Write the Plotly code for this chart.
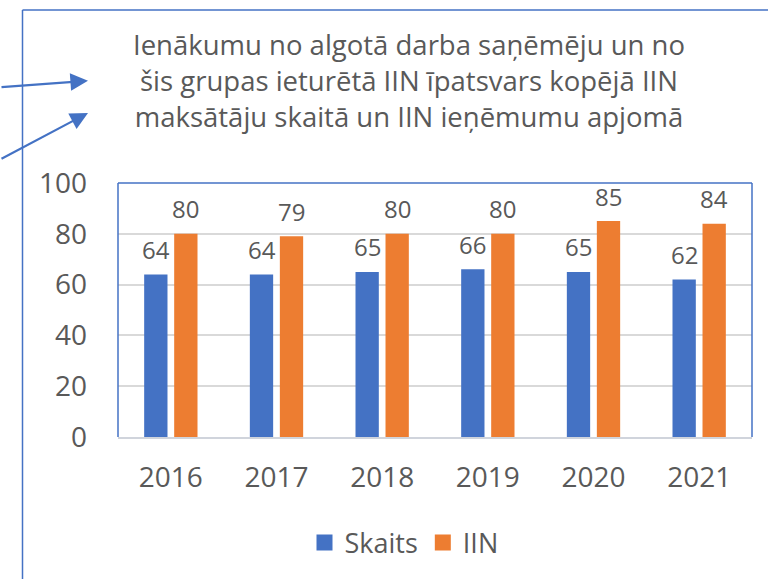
import plotly.graph_objects as go

years = ["2016", "2017", "2018", "2019", "2020", "2021"]
skaits = [64, 64, 65, 66, 65, 62]
iin = [80, 79, 80, 80, 85, 84]
title_lines = ["Ienākumu no algotā darba saņēmēju un no",
               "šis grupas ieturētā IIN īpatsvars kopējā IIN",
               "maksātāju skaitā un IIN ieņēmumu apjomā"]

BLUE = "#4472C4"
ORANGE = "#ED7D31"
GREY = "#595959"
FONT = "Open Sans"

W, H = 768, 579
L, R, T, B = 118, 16, 183, 142
PW = W - L - R
PH = H - T - B

def px(x):
    return (x - L) / PW

def py(y):
    return (H - B - y) / PH

fig = go.Figure()
fig.add_trace(go.Bar(x=years, y=skaits, name="Skaits", showlegend=False,
                     marker=dict(color=BLUE, line=dict(width=0))))
fig.add_trace(go.Bar(x=years, y=iin, name="IIN", showlegend=False,
                     marker=dict(color=ORANGE, line=dict(width=0))))
# legend entries with larger square swatches
for name, col in (("Skaits", BLUE), ("IIN", ORANGE)):
    fig.add_trace(go.Scatter(x=[None], y=[None], mode="markers", name=name,
                             marker=dict(symbol="square", size=17, color=col)))

annotations = []
for i, v in enumerate(skaits):
    annotations.append(dict(x=i, y=v, xref="x", yref="y", text=str(v), showarrow=False,
                            xshift=-15, yshift=25, yanchor="middle",
                            font=dict(family=FONT, size=24, color=GREY)))
for i, v in enumerate(iin):
    annotations.append(dict(x=i, y=v, xref="x", yref="y", text=str(v), showarrow=False,
                            xshift=15, yshift=25, yanchor="middle",
                            font=dict(family=FONT, size=24, color=GREY)))

annotations.append(dict(x=px(409), y=py(80), xref="paper", yref="paper",
                        text="<br>".join(title_lines), showarrow=False,
                        xanchor="center", yanchor="middle", align="center",
                        font=dict(family=FONT, size=27.5, color=GREY)))

# arrows
annotations.append(dict(x=px(88), y=py(80.7), xref="paper", yref="paper", text="",
                        showarrow=True, ax=-108, ay=6.5, axref="pixel", ayref="pixel",
                        arrowhead=2, arrowsize=1.6, arrowwidth=2.2, arrowcolor=BLUE))
annotations.append(dict(x=px(88), y=py(113), xref="paper", yref="paper", text="",
                        showarrow=True, ax=-108, ay=46.6, axref="pixel", ayref="pixel",
                        arrowhead=2, arrowsize=1.6, arrowwidth=2.2, arrowcolor=BLUE))

shapes = [
    dict(type="line", xref="paper", yref="paper", x0=px(22.5), x1=px(22.5), y0=py(10), y1=py(600),
         line=dict(color=BLUE, width=1.5)),
    dict(type="line", xref="paper", yref="paper", x0=px(22.5), x1=px(800), y0=py(10), y1=py(10),
         line=dict(color=BLUE, width=1.5)),
    dict(type="line", xref="paper", yref="paper", x0=0, x1=0, y0=0, y1=1, line=dict(color=BLUE, width=1.5)),
    dict(type="line", xref="paper", yref="paper", x0=0, x1=1, y0=1, y1=1, line=dict(color=BLUE, width=1.5)),
    dict(type="line", xref="paper", yref="paper", x0=1, x1=1, y0=0, y1=1, line=dict(color=BLUE, width=1.5)),
]

fig.update_layout(
    width=W, height=H,
    margin=dict(l=L, r=R, t=T, b=B, pad=0, autoexpand=False),
    paper_bgcolor="white", plot_bgcolor="white",
    barmode="group", bargap=0.432, bargroupgap=0.223,
    font=dict(family=FONT, color=GREY, size=28),
    showlegend=True,
    legend=dict(orientation="h", x=px(404), y=py(543), xanchor="center", yanchor="middle",
                font=dict(family=FONT, size=27, color=GREY), itemwidth=30, traceorder="normal"),
    annotations=annotations,
    shapes=shapes,
)
fig.update_xaxes(type="category", automargin=False, showgrid=False, showline=True,
                 linecolor="#D0D4DC", linewidth=2,
                 ticks="", ticklabelstandoff=14, tickfont=dict(family=FONT, size=28, color=GREY))
fig.update_yaxes(range=[0, 100], dtick=20, automargin=False, showgrid=True, gridcolor="#D9D9D9",
                 gridwidth=1.5, zeroline=False, showline=False, ticks="", ticklabelstandoff=30,
                 tickfont=dict(family=FONT, size=28, color=GREY))

fig.write_html("out.html", config={"displayModeBar": False},
               post_script="document.body.style.margin='0';")
